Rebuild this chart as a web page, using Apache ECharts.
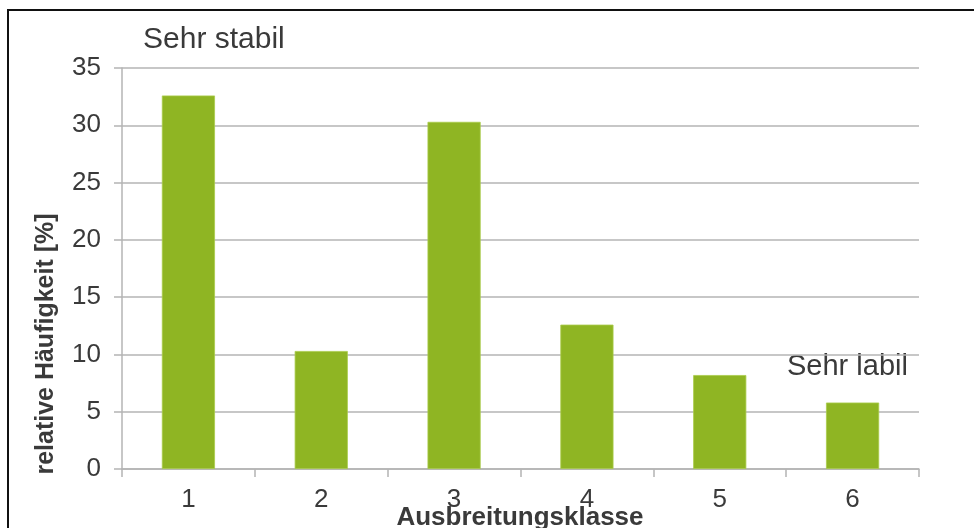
<!DOCTYPE html>
<html>
<head>
<meta charset="utf-8">
<script src="https://cdn.jsdelivr.net/npm/echarts@6/dist/echarts.min.js"></script>
<style>
  html, body { margin: 0; padding: 0; background: #fff; }
  #chart { width: 974px; height: 528px; }
</style>
</head>
<body>
<div id="chart"></div>
<script>
// Relative frequency of dispersion classes (Ausbreitungsklassen)
const categories = ['1', '2', '3', '4', '5', '6'];
const frequencies = [32.6, 10.3, 30.3, 12.6, 8.2, 5.8];
const yTicks = [0, 5, 10, 15, 20, 25, 30, 35];

const textColor = '#3a3a3a';
const gridColor = '#b4b4b4';
const barColor = '#8fb523';
const fontFamily = '"Liberation Sans", Arial, sans-serif';

const chart = echarts.init(document.getElementById('chart'), null, { renderer: 'canvas' });

chart.setOption({
  backgroundColor: '#ffffff',
  animation: false,
  grid: { left: 122, right: 55, top: 68, bottom: 59, containLabel: false },
  xAxis: {
    type: 'category',
    data: categories,
    axisLine: { show: true, lineStyle: { color: gridColor, width: 1.5 } },
    axisTick: { show: true, alignWithLabel: false, length: 8, lineStyle: { color: gridColor, width: 1.5 } },
    axisLabel: { color: textColor, fontSize: 26, fontFamily: fontFamily, margin: 18 },
    splitLine: { show: false }
  },
  yAxis: {
    type: 'value',
    min: yTicks[0],
    max: yTicks[yTicks.length - 1],
    interval: 5,
    axisLine: { show: true, lineStyle: { color: gridColor, width: 1.5 } },
    axisTick: { show: true, length: 8, lineStyle: { color: gridColor, width: 1.5 } },
    axisLabel: { color: textColor, fontSize: 26, fontFamily: fontFamily, margin: 21 },
    splitLine: { show: true, lineStyle: { color: gridColor, width: 1.5 } }
  },
  series: [{
    type: 'bar',
    data: frequencies,
    barWidth: '40%',
    itemStyle: { color: barColor, borderColor: '#a9cc4a', borderWidth: 0.8 }
  }],
  graphic: [
    {
      type: 'rect',
      shape: { x: 8, y: 10, width: 1000, height: 600 },
      style: { fill: 'none', stroke: '#111', lineWidth: 2 },
      silent: true
    },
    {
      type: 'text',
      x: 143, y: 40,
      style: { text: 'Sehr stabil', fill: textColor, font: '30px ' + fontFamily, textVerticalAlign: 'middle' }
    },
    {
      type: 'text',
      x: 787, y: 367,
      style: { text: 'Sehr labil', fill: textColor, font: '29px ' + fontFamily, textVerticalAlign: 'middle' }
    },
    {
      type: 'text',
      x: 520, y: 518,
      style: { text: 'Ausbreitungsklasse', fill: textColor, font: 'bold 26px ' + fontFamily, textAlign: 'center', textVerticalAlign: 'middle' }
    },
    {
      type: 'text',
      x: 46, y: 344,
      rotation: Math.PI / 2,
      style: { text: 'relative Häufigkeit [%]', fill: textColor, font: 'bold 25px ' + fontFamily, textAlign: 'center', textVerticalAlign: 'middle' }
    }
  ]
});
</script>
</body>
</html>
